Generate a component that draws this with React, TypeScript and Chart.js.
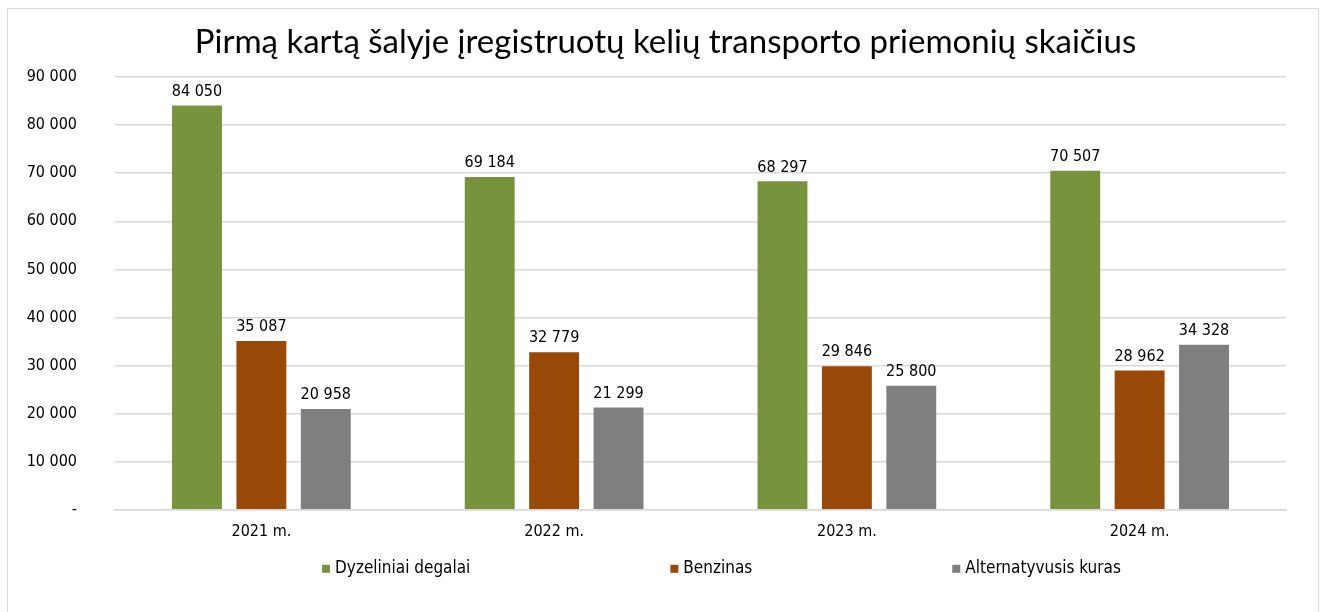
import React, { useEffect, useRef } from "react";
import { Chart, registerables } from "chart.js";

Chart.register(...registerables);

const titleText = "Pirmą kartą šalyje įregistruotų kelių transporto priemonių skaičius";
const categories = ["2021 m.", "2022 m.", "2023 m.", "2024 m."];
const seriesNames = ["Dyzeliniai degalai", "Benzinas", "Alternatyvusis kuras"];
const dyzeliniai = [84050, 69184, 68297, 70507];
const benzinas = [35087, 32779, 29846, 28962];
const alternatyvusis = [20958, 21299, 25800, 34328];
const seriesColors = ["#77933C", "#984807", "#7F7F7F"];

const FONT = "'DejaVu Sans Condensed', 'DejaVu Sans', sans-serif";

const fmt = (v: number) => {
  if (v === 0) return "-";
  return String(Math.round(v)).replace(/\B(?=(\d{3})+(?!\d))/g, " ");
};

const valueLabels = {
  id: "valueLabels",
  afterDatasetsDraw(chart: any) {
    const ctx = chart.ctx;
    ctx.save();
    ctx.font = `16px ${FONT}`;
    ctx.fillStyle = "#000000";
    ctx.textAlign = "center";
    ctx.textBaseline = "bottom";
    chart.data.datasets.forEach((ds: any, i: number) => {
      const meta = chart.getDatasetMeta(i);
      meta.data.forEach((bar: any, j: number) => {
        ctx.fillText(fmt(ds.data[j]), bar.x, bar.y - 6);
      });
    });
    ctx.restore();
  },
};

const customTitle = {
  id: "customTitle",
  afterDraw(chart: any) {
    const ctx = chart.ctx;
    ctx.save();
    ctx.font = `33px Lato, 'Open Sans', sans-serif`;
    ctx.fillStyle = "#000000";
    ctx.textAlign = "center";
    ctx.textBaseline = "middle";
    const cx = (chart.chartArea.left + chart.chartArea.right) / 2 - 35;
    ctx.fillText(titleText, cx, chart.chartArea.top - 35);
    ctx.restore();
  },
};

const customLegend = {
  id: "customLegend",
  afterDraw(chart: any) {
    const ctx = chart.ctx;
    ctx.save();
    ctx.font = `17px ${FONT}`;
    ctx.textBaseline = "middle";
    ctx.textAlign = "left";
    const box = 8;
    const gapBox = 5;
    const gapItem = 200;
    const items = chart.data.datasets.map((ds: any) => ({
      text: ds.label,
      color: ds.backgroundColor,
      w: box + gapBox + ctx.measureText(ds.label).width,
    }));
    const total = items.reduce((s: number, it: any) => s + it.w, 0) + gapItem * (items.length - 1);
    const cx = (chart.chartArea.left + chart.chartArea.right) / 2 + 21;
    let x = cx - total / 2;
    const y = chart.chartArea.bottom + 59;
    items.forEach((it: any) => {
      ctx.fillStyle = it.color;
      ctx.fillRect(x, y - box / 2, box, box);
      ctx.fillStyle = "#000000";
      ctx.fillText(it.text, x + box + gapBox, y);
      x += it.w + gapItem;
    });
    ctx.restore();
  },
};

export default function App() {
  const ref = useRef<HTMLCanvasElement>(null);
  useEffect(() => {
    const datasets = [dyzeliniai, benzinas, alternatyvusis].map((d, i) => ({
      label: seriesNames[i],
      data: d,
      backgroundColor: seriesColors[i],
      borderWidth: 0,
      categoryPercentage: 0.66,
      barPercentage: 0.775,
    }));
    const chart = new Chart(ref.current!, {
      type: "bar",
      data: { labels: categories, datasets },
      options: {
        animation: false,
        responsive: false,
        maintainAspectRatio: false,
        layout: { padding: { left: 20, right: 39, top: 77, bottom: 59 } },
        plugins: {
          title: { display: false },
          legend: { display: false },
          tooltip: { enabled: false },
        },
        scales: {
          x: {
            grid: { display: false, drawTicks: false },
            border: { display: true, color: "#D9D9D9", width: 1.5 },
            ticks: { color: "#000000", font: { family: FONT, size: 16 }, padding: 12 },
          },
          y: {
            min: 0,
            max: 90000,
            afterFit(scale: any) {
              scale.width = 95;
            },
            grid: { color: "#D9D9D9", lineWidth: 1.5, drawTicks: false },
            border: { display: false },
            ticks: {
              stepSize: 10000,
              color: "#000000",
              font: { family: FONT, size: 16 },
              padding: 38,
              callback: (v: any) => fmt(Number(v)),
            },
          },
        },
      },
      plugins: [valueLabels, customTitle, customLegend],
    });
    return () => chart.destroy();
  }, []);
  return (
    <div style={{ position: "fixed", left: 0, top: 0, width: 1325, height: 612, background: "#fff" }}>
      <div
        style={{
          position: "absolute",
          left: 7,
          top: 8,
          width: 1312,
          height: 620,
          border: "1.5px solid #D9D9D9",
          boxSizing: "border-box",
        }}
      />
      <canvas ref={ref} width={1325} height={612} style={{ position: "absolute", left: 0, top: 0 }} />
    </div>
  );
}
